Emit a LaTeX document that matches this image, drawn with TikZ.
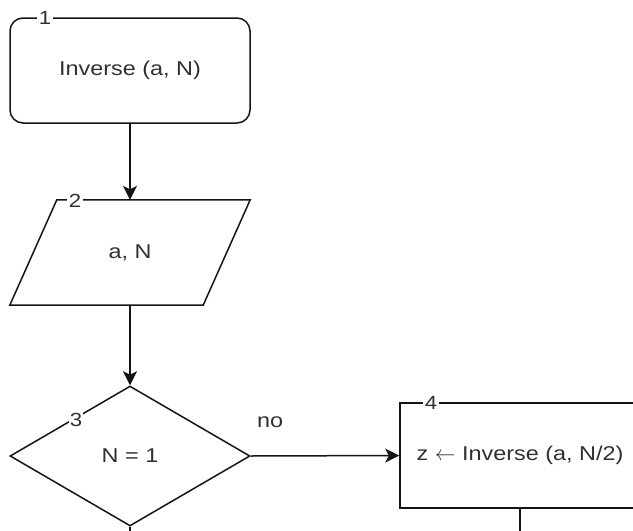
\documentclass[tikz,border=0pt]{standalone}
\usepackage{fontspec}
\setmainfont{Liberation Sans}
\newfontfamily\flowfont[FakeStretch=1.17]{Liberation Sans}
\usetikzlibrary{arrows.meta,shapes.geometric,calc}
\definecolor{inkline}{HTML}{141414}
\definecolor{inktext}{HTML}{303030}
\tikzset{
  every node/.style={font=\flowfont\fontsize{20}{24}\selectfont, text=inktext},
  box/.style={draw=inkline, line width=1.5pt, minimum width=240pt,
    minimum height=105pt, inner sep=0pt},
  startbox/.style={box, rounded corners=13pt},
  ioframe/.style={minimum width=240pt, minimum height=105pt, inner sep=0pt},
  decision/.style={diamond, draw=inkline, line width=1.5pt,
    minimum width=240pt, minimum height=140pt, inner sep=0pt},
  edgeline/.style={draw=inkline, line width=1.5pt},
  flow/.style={edgeline, -{Stealth[length=14pt,width=14pt,inset=3.5pt]}},
  stepno/.style={fill=white, inner sep=2pt, font=\flowfont\fontsize{19}{22}\selectfont},
  edgelabel/.style={inner sep=0pt}
}
\begin{document}
\begin{tikzpicture}[x=1pt, y=-1pt]
  \useasboundingbox (0,0) rectangle (633,531);
  \clip (0,0) rectangle (633,531);

  % 1: entry point
  \node[startbox] (start) at (130,70.5) {Inverse (a, N)};

  % 2: input parallelogram
  \node[ioframe] (input) at (130,252.5) {a, N};
  \draw[edgeline] ($(input.north west)+(47,0)$) -- (input.north east)
    -- ($(input.south east)+(-47,0)$) -- (input.south west) -- cycle;

  % 3: base-case test
  \node[decision] (test) at (130,456) {N = 1};

  % 4: recursive call (runs past the right margin)
  \node[box] (recurse) at (520,455.5) {z \(\leftarrow\) Inverse (a, N/2)};

  % connectors
  \draw[flow] (start.south) -- (input.north);
  \draw[flow] (input.south) -- (test.north);
  \draw[flow] (test.east) -- node[edgelabel, pos=0.13, above=27pt] {no} (recurse.west);
  \coordinate (testout) at (130,560);
  \coordinate (recurseout) at (520,560);
  \draw[edgeline] (test.south) -- (testout);
  \draw[edgeline] (recurse.south) -- (recurseout);

  % step numbers
  \node[stepno] (n1) at (45,18) {1};
  \node[stepno] (n2) at (75,200.5) {2};
  \node[stepno, inner sep=0.5pt] (n3) at (76,420) {3};
  \node[stepno] (n4) at (431,403) {4};
\end{tikzpicture}
\end{document}
